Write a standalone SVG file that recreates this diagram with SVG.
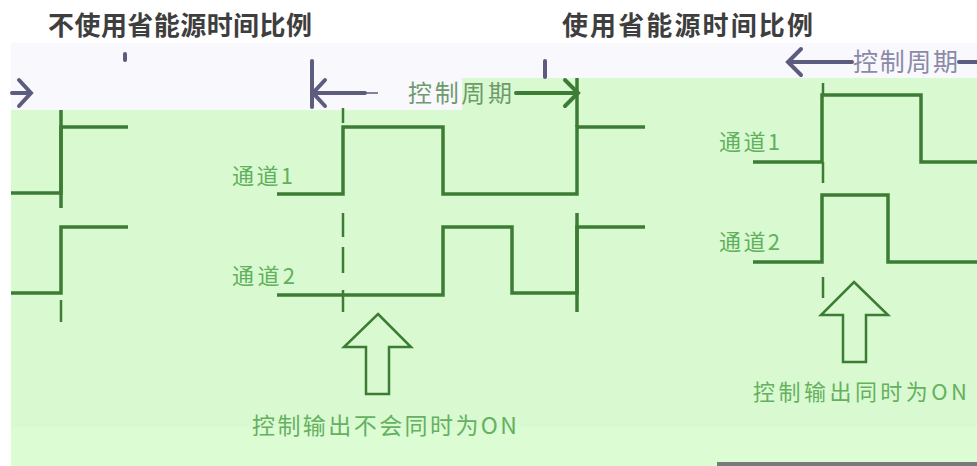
<svg xmlns="http://www.w3.org/2000/svg" width="977" height="466" viewBox="0 0 977 466">
<style>
.wave{fill:none;stroke:#3c7c34;stroke-width:3.5;stroke-linejoin:miter;stroke-linecap:butt}
.dash{fill:none;stroke:#3c7c34;stroke-width:2.5}
.hollow{fill:none;stroke:#3c7c34;stroke-width:2.5;stroke-linejoin:miter}
.gray{fill:none;stroke:#5c5c7e;stroke-width:4;stroke-linecap:round}
.grn{fill:none;stroke:#3c7c34;stroke-width:4;stroke-linecap:round}
.title{font-family:"Noto Sans CJK SC","Noto Sans",sans-serif;font-size:26px;font-weight:bold;fill:#3e3e3e}
.lbl{font-family:"Noto Sans CJK SC","Noto Sans",sans-serif;font-size:22px;fill:#62b05e}
.note{font-family:"Noto Sans CJK SC","Noto Sans",sans-serif;font-size:23px;fill:#66b062}
</style>
<g id="background">
<rect x="0" y="0" width="977" height="466" fill="#ffffff"/>
<rect x="11" y="43" width="966" height="67" fill="#f8f8fd"/>
<polygon points="11,110 462,110 462,78 977,78 977,466 11,466" fill="#d9fad0"/>
<rect x="11" y="427" width="966" height="39" fill="#dcfcd4"/>
<rect x="717" y="462" width="260" height="4" fill="#7a7a7a"/>
</g>
<g id="title-left"><text class="title" x="48" y="35" textLength="264" lengthAdjust="spacing">不使用省能源时间比例</text></g>
<g id="title-right"><text class="title" x="562" y="35" textLength="251" lengthAdjust="spacing">使用省能源时间比例</text></g>
<g id="connectors">
<path class="gray" d="M12,93 H30 M19,80 L31,93 L19,106"/>
<path class="gray" d="M125,54 V60" stroke-width="2.5"/>
<path class="gray" d="M312,61 V107" stroke-width="3"/>
<path class="gray" d="M545,61 V77" stroke-width="3"/>
<path class="gray" d="M314,93 H365 M325,80 L313,93 L325,106"/>
<path d="M365,93 H378" stroke="#5c5c7e" stroke-width="1.5"/>
<text x="408" y="102" textLength="104" lengthAdjust="spacing" style="font-family:'Noto Sans CJK SC','Noto Sans',sans-serif;font-size:24px;fill:#6f9a6c">控制周期</text>
<path class="grn" d="M516,93 H576 M565,80 L578,93 L565,106"/>
<path class="gray" d="M789,62 H852 M801,49 L788,62 L801,75"/>
<text x="853" y="71" textLength="105" lengthAdjust="spacing" style="font-family:'Noto Sans CJK SC','Noto Sans',sans-serif;font-size:25px;fill:#8a8aa8">控制周期</text>
<path class="gray" d="M959,62 H977"/>
</g>
<g id="wave-left">
<path class="wave" d="M11,193 H61 V127 H128"/>
<path class="wave" d="M61,110 V208"/>
<path class="wave" d="M11,293 H61 V227 H128"/>
<path class="dash" d="M61,300 V322"/>
</g>
<g id="labels-mid">
<text class="lbl" x="232" y="184" textLength="61" lengthAdjust="spacing">通道1</text>
<text class="lbl" x="232" y="284" textLength="63" lengthAdjust="spacing">通道2</text>
</g>
<g id="wave-mid">
<path class="wave" d="M277,194 H343 V127 H443 V194 H577 V127 H645"/>
<path class="wave" d="M277,295 H443 V227 H512 V293 H577 V227 H645"/>
<path class="dash" d="M343,108 V123 M343,213 V237 M343,247 V273 M343,290 V312"/>
<path class="wave" d="M577,78 V127 M577,213 V312" stroke-width="3"/>
</g>
<g id="arrow-mid">
<polygon class="hollow" points="378,314 411,347 389,347 389,394 366,394 366,347 344,347"/>
<text class="note" x="252" y="434" textLength="265" lengthAdjust="spacing">控制输出不会同时为ON</text>
</g>
<g id="labels-right">
<text class="lbl" x="719" y="150" textLength="61" lengthAdjust="spacing">通道1</text>
<text class="lbl" x="719" y="250" textLength="61" lengthAdjust="spacing">通道2</text>
</g>
<g id="wave-right">
<path class="wave" d="M753,162 H822 V95 H921 V162 H977"/>
<path class="wave" d="M753,262 H822 V195 H888 V262 H977"/>
<path class="dash" d="M823,83 V95 M823,162 V183 M823,277 V298"/>
</g>
<g id="arrow-right">
<polygon class="hollow" points="854,282 888,315 866,315 866,362 843,362 843,315 821,315"/>
<text class="note" x="753" y="400" textLength="214" lengthAdjust="spacing" style="font-size:22px">控制输出同时为ON</text>
</g>
</svg>
